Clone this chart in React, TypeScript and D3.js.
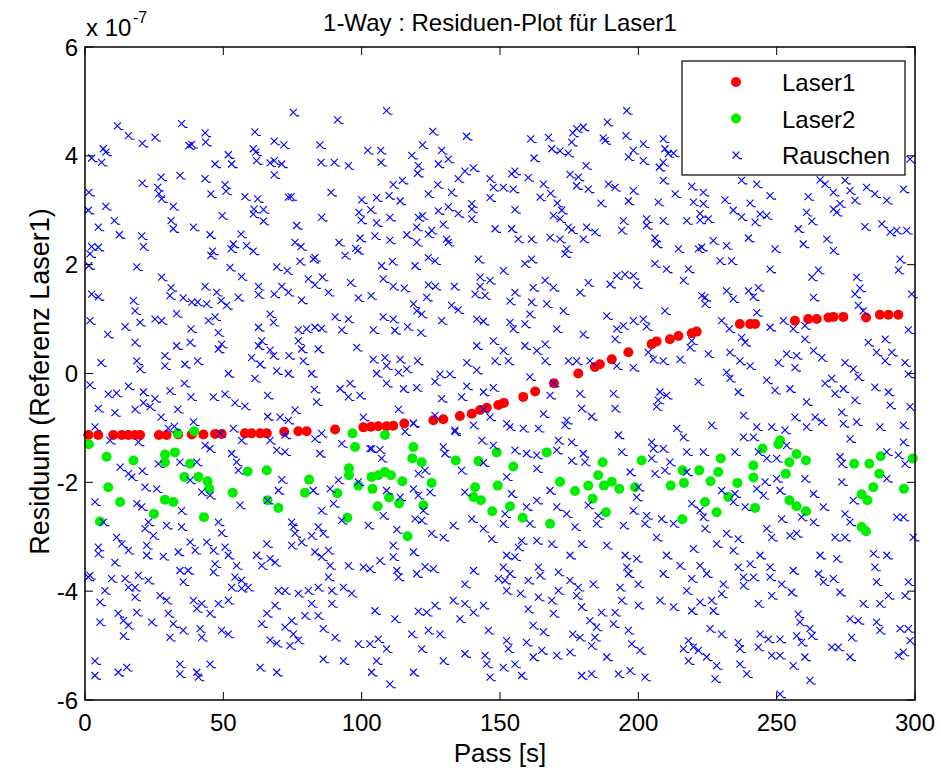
import React from 'react'
import * as d3 from 'd3'

// Werte in Einheiten von 1e-7
const laser1: [number, number][] = [
  [1.2,-1.13],[4.8,-1.13],[10.2,-1.13],[13.3,-1.13],[15.7,-1.13],[18.1,-1.13],[19.9,-1.13],[26.7,-1.13],[29.5,-1.13],
  [33.7,-1.12],[38.6,-1.12],[42.8,-1.12],[47.0,-1.11],[49.4,-1.11],[57.8,-1.10],[60.2,-1.10],[63.3,-1.10],[65.7,-1.10],
  [72.0,-1.07],[77.1,-1.06],[80.1,-1.06],[90.4,-1.03],[100.6,-0.99],[103.4,-0.98],[106.0,-0.97],[109.0,-0.97],[111.4,-0.96],
  [115.4,-0.92],[125.9,-0.86],[129.5,-0.84],[135.5,-0.78],[139.8,-0.74],[142.8,-0.67],[145.2,-0.63],[149.4,-0.58],[151.4,-0.54],
  [158.4,-0.43],[162.7,-0.33],[169.5,-0.18],[178.3,0.0],[184.3,0.12],[186.1,0.17],[190.4,0.26],[196.4,0.39],[204.8,0.54],
  [206.6,0.59],[211.4,0.63],[214.5,0.69],[219.3,0.74],[221.1,0.77],[236.7,0.91],[240.4,0.91],[242.2,0.91],[256.6,0.97],
  [261.4,1.0],[264.5,1.0],[268.7,1.03],[270.5,1.04],[274.1,1.04],[282.3,1.03],[287.3,1.08],[290.4,1.08],[294.0,1.08],
]

const laser2: [number, number][] = [
  [1.4,-1.30],[7.8,-1.53],[17.5,-1.60],[28.9,-1.49],[32.5,-1.45],[28.9,-1.63],[33.5,-1.10],[39.5,-1.06],[38.0,-1.66],
  [8.4,-2.09],[12.7,-2.36],[35.9,-1.90],[41.0,-1.90],[44.3,-1.98],[44.9,-2.12],[53.4,-2.19],[58.8,-1.80],[65.7,-1.78],
  [28.9,-2.32],[31.9,-2.36],[24.9,-2.58],[5.4,-2.72],[43.0,-2.64],[66.0,-2.33],[69.9,-2.47],[81.0,-1.95],[79.5,-2.19],
  [91.2,-2.20],[94.8,-2.65],[96.7,-1.10],[97.6,-1.35],[95.4,-1.74],[95.4,-1.87],[98.8,-2.06],[103.9,-2.12],[103.6,-1.90],
  [106.0,-1.87],[108.4,-1.13],[108.4,-1.81],[110.6,-1.87],[105.8,-2.44],[109.9,-2.28],[113.5,-2.39],[114.7,-1.98],[116.6,-2.99],
  [118.7,-1.35],[118.3,-1.56],[121.7,-1.63],[125.3,-2.01],[122.3,-2.42],[134.0,-1.60],[142.2,-1.61],[141.0,-2.09],[140.4,-2.27],
  [143.1,-2.33],[147.2,-2.53],[148.8,-1.45],[149.2,-2.06],
  [154.8,-1.71],[153.6,-2.44],[158.2,-2.65],[168.1,-2.76],[166.9,-1.45],[171.7,-1.99],[177.1,-2.16],[181.9,-2.06],[183.5,-2.30],
  [187.1,-1.63],[185.5,-1.87],[187.6,-2.06],[190.4,-1.99],[193.1,-2.12],[188.3,-2.55],[198.8,-2.09],[201.2,-1.60],[211.7,-2.06],
  [216.0,-1.78],[216.5,-2.01],[215.9,-2.68],[222.0,-1.78],[224.1,-2.36],[226.1,-1.98],[228.3,-2.55],[228.9,-1.81],[229.8,-1.56],
  [232.5,-2.27],[235.8,-2.01],[241.6,-1.69],[241.6,-1.91],[242.2,-2.47],[244.9,-1.38],[250.6,-1.30],[251.2,-1.23],[253.3,-1.84],
  [254.6,-1.63],[257.2,-1.48],[260.6,-1.60],[254.6,-2.33],[257.2,-2.44],[260.6,-2.53],[278.0,-1.66],[283.5,-1.66],[287.6,-1.52],
  [287.1,-1.84],[284.9,-2.09],[280.7,-2.22],[282.8,-2.33],[280.7,-2.82],[282.3,-2.90],[296.0,-2.12],[299.2,-1.56],
]

const rauschen: [number, number][] = [
  // 0..150, oben
  [75.3,4.80],[91.3,4.66],[109.0,4.83],[11.7,4.55],[15.7,4.37],[20.7,4.23],[25.3,4.34],[34.9,4.59],[43.4,4.42],[43.6,4.25],
  [37.6,4.19],[38.6,4.21],[61.4,4.44],[68.4,4.27],[71.9,4.20],[60.8,4.13],[61.7,4.07],[62.0,3.91],[84.9,4.20],[125.7,4.45],
  [137.9,4.36],[122.0,4.20],[102.2,4.10],[106.9,4.10],[107.0,3.88],[6.6,4.13],[7.5,4.07],[2.4,3.96],[6.0,3.88],[51.8,4.02],
  [47.0,3.85],[53.0,3.85],[66.9,3.87],[68.4,3.91],[71.1,3.85],[85.3,3.88],[90.1,3.88],[95.2,3.82],[68.4,3.65],[118.1,4.01],
  [120.5,3.82],[120.2,3.68],[128.9,4.10],[131.3,3.94],[127.7,3.85],[140.4,3.78],[137.3,3.72],[134.9,3.58],[146.4,3.58],[147.6,3.42],
  [146.4,3.23],[148.2,2.66],[34.3,3.64],[27.5,3.61],[20.7,3.50],[26.3,3.42],[26.7,3.30],[27.7,3.21],[31.9,3.07],[43.4,3.58],
  [45.5,3.30],[50.6,3.47],[51.0,3.35],[57.8,3.25],[62.4,3.21],[61.1,3.02],[64.5,3.01],[60.8,2.93],[64.5,2.80],[73.5,3.24],
  [74.5,3.25],[88.9,3.33],[114.7,3.55],[111.4,3.47],[109.9,3.27],[113.9,3.17],[105.4,3.23],[100.0,3.19],[103.3,3.01],[99.0,2.96],
  [99.8,2.82],[105.4,2.77],[110.2,2.87],[124.1,3.30],[127.5,3.47],[132.5,3.33],[127.7,2.99],[131.3,3.06],[134.9,2.94],[139.8,3.12],
  [139.8,3.02],[139.8,2.84],[120.5,2.87],[122.0,2.90],[119.9,2.69],[125.3,2.63],[124.1,2.56],[129.5,2.74],[130.7,2.47],[131.3,2.41],
  [116.3,2.55],[119.9,2.41],[110.2,2.45],[104.8,2.53],[99.4,2.49],[97.8,2.30],[98.6,2.26],[94.0,2.17],[91.8,2.41],[85.5,2.87],
  [76.5,2.72],[75.9,2.41],[78.1,2.33],[83.1,2.13],[82.5,2.10],[77.7,2.06],[69.3,1.96],[73.1,1.89],[1.4,3.33],[1.2,3.00],
  [7.5,3.07],[10.6,2.81],[4.8,2.69],[12.4,2.55],[20.5,2.53],[21.1,2.33],[31.1,2.81],[31.9,2.66],[39.2,2.69],[45.2,2.55],
  [49.6,2.90],[56.4,2.56],[53.6,2.38],[52.8,2.29],[58.4,2.35],[60.8,2.25],[46.1,2.25],[45.5,2.17],[2.4,2.33],[4.8,2.32],
  [1.8,2.20],[1.4,1.98],[18.7,1.96],[27.7,1.77],[52.4,1.95],[56.6,1.78],[2.4,1.46],[4.8,1.41],[17.5,1.34],[18.1,1.15],
  [31.1,1.58],[30.7,1.43],[35.5,1.39],[38.6,1.31],[40.7,1.31],[43.4,1.60],[44.0,1.28],[47.6,1.49],[49.2,1.34],[51.2,1.25],
  [55.4,1.40],[62.7,1.60],[62.7,1.45],[68.4,1.46],[71.1,1.60],[73.5,1.49],[78.3,1.35],[80.7,1.74],[83.1,1.63],[85.8,1.77],
  [88.0,1.49],[96.0,1.67],[98.8,1.39],[103.4,1.43],[107.8,1.74],[111.4,1.60],[115.4,1.57],[107.2,1.98],[111.1,2.06],[119.3,1.98],
  [124.1,2.13],[126.5,2.07],[142.2,2.10],[124.1,1.63],[126.7,1.60],[133.5,1.60],[123.5,1.40],[118.7,1.28],[119.9,1.15],[121.7,1.09],
  [132.5,1.25],[134.9,1.17],[142.8,1.77],[146.4,1.71],[142.8,1.60],[141.0,1.46],[144.6,1.43],[1.8,0.97],[8.2,0.72],[14.5,0.86],
  [19.9,0.94],[25.3,1.00],[27.7,0.97],[18.1,0.57],[33.1,1.10],[38.3,0.82],[38.0,0.57],[33.1,0.51],[44.6,0.97],[47.0,1.04],
  [48.2,0.75],[49.4,0.54],[48.2,0.45],[62.7,0.85],[66.9,1.09],[68.1,0.94],[63.9,0.60],[62.7,0.51],[66.9,0.43],[77.1,0.80],
  [80.1,0.82],[83.1,0.85],[85.5,0.83],[77.1,0.60],[78.3,0.45],[84.3,0.45],[90.4,1.04],[95.2,1.00],[92.8,0.80],[98.2,0.48],
  [104.2,0.80],[107.8,1.04],[111.4,1.00],[112.0,0.79],[116.6,0.86],[121.4,0.75],[128.9,0.97],[141.6,1.00],[144.0,0.96],[141.6,0.51],
  [147.6,0.60],[148.2,0.23],[5.8,0.20],[18.7,0.23],[19.9,0.08],[28.9,0.33],[28.9,0.14],[36.1,0.17],[40.7,0.23],[60.2,0.29],
  [63.3,0.17],[68.1,0.33],[73.7,0.33],[78.9,0.23],[104.2,0.26],[108.4,0.29],[109.0,0.14],[113.9,0.26],[120.2,0.23],[138.0,0.20],
  [141.6,0.06],[51.8,0.0],[69.3,0.05],[73.5,0.0],[81.9,0.0],[105.4,0.0],[113.3,0.02],[116.3,0.08],[128.3,-0.01],[131.9,-0.01],
  // 150..300, oben
  [195.8,4.83],[188.8,4.62],[177.7,4.50],[180.1,4.53],[176.3,4.42],[161.1,4.31],[167.5,4.34],[168.7,4.13],[171.7,4.09],[174.7,4.05],
  [175.9,4.25],[187.3,4.33],[188.0,4.28],[195.5,4.37],[198.2,4.10],[196.4,3.98],[201.8,4.22],[201.8,3.91],[209.0,4.31],[209.6,4.13],
  [210.8,4.04],[209.0,3.88],[207.6,3.79],[212.7,4.05],[162.3,3.96],[181.1,3.82],[155.4,3.72],[154.2,3.67],[160.2,3.60],[151.2,3.42],
  [154.8,3.39],[165.7,3.48],[168.3,3.31],[164.5,3.24],[175.3,3.66],[178.3,3.61],[177.7,3.45],[181.9,3.39],[189.2,3.48],[191.6,3.42],
  [198.2,3.36],[209.0,3.55],[213.3,3.30],[219.3,3.44],[223.5,3.33],[219.9,3.15],[223.5,3.12],[186.5,3.13],[196.4,3.17],[207.2,3.15],
  [155.4,3.01],[170.7,3.13],[172.3,3.00],[169.3,2.90],[171.7,2.84],[174.7,2.69],[175.9,2.64],[181.3,2.69],[184.3,2.60],[180.1,2.47],
  [171.7,2.47],[168.1,2.50],[156.6,2.47],[161.4,2.47],[154.2,2.66],[194.6,2.81],[194.0,2.63],[203.0,2.84],[203.0,2.72],[209.0,2.81],
  [217.5,2.81],[222.3,2.94],[222.3,2.82],[225.3,2.84],[231.3,3.19],[234.3,3.00],[237.3,2.88],[240.4,3.13],[242.2,2.78],[244.0,2.93],
  [246.4,2.90],[247.6,3.27],[237.3,3.55],[242.8,3.48],[261.4,3.25],[267.5,3.48],[270.5,3.33],[270.5,3.02],[271.7,2.96],[272.9,3.12],
  [276.5,3.36],[278.3,3.18],[282.5,3.42],[285.5,3.30],[289.8,3.18],[295.8,3.39],[298.2,3.94],[274.7,3.55],[265.7,3.56],[260.8,2.96],
  [262.7,2.80],[257.8,2.66],[259.6,2.38],[268.1,2.47],[270.5,2.26],[281.9,2.70],[288.0,2.75],[291.0,2.60],[293.4,2.63],[297.0,2.63],
  [294.6,2.10],[294.0,1.90],[206.0,2.49],[206.6,2.38],[214.5,2.29],[221.7,2.29],[222.9,2.32],[227.1,2.44],[231.9,2.35],[239.8,2.49],
  [249.4,2.29],[229.5,2.07],[233.7,2.07],[206.0,2.02],[210.2,1.92],[218.1,1.92],[216.3,1.71],[247.6,1.92],[159.0,2.02],[161.4,2.10],
  [151.2,1.89],[174.1,2.29],[173.5,2.20],[192.2,1.80],[195.2,1.82],[198.2,1.80],[199.4,1.63],[189.8,1.64],[181.9,1.67],[178.9,1.49],
  [166.3,1.71],[169.3,1.58],[162.0,1.58],[155.4,1.49],[153.6,1.33],[161.4,1.31],[166.9,1.28],[172.9,1.15],[160.8,1.09],[159.0,0.91],
  [153.6,0.94],[154.8,0.82],[151.2,0.42],[153.0,0.23],[159.0,0.51],[163.3,0.42],[166.3,0.54],[166.3,0.23],[174.7,0.23],[177.7,0.23],
  [170.5,0.82],[180.1,0.72],[182.5,0.23],[188.6,1.06],[192.2,0.82],[194.6,0.88],[191.6,0.63],[198.2,0.97],[201.8,1.00],[203.0,0.86],
  [203.6,0.39],[205.4,0.26],[209.0,0.23],[198.2,0.11],[192.2,0.14],[209.6,1.15],[215.1,0.26],[218.7,0.48],[219.3,0.60],[225.3,0.36],
  [224.1,1.40],[224.1,1.28],[222.9,1.43],[230.1,0.97],[231.9,1.52],[234.3,1.37],[239.8,1.52],[241.6,1.41],[243.4,1.58],[242.8,1.12],
  [232.9,0.82],[237.3,0.66],[238.6,0.57],[233.1,0.39],[236.7,0.23],[240.4,0.14],[231.9,0.02],[247.6,0.85],[252.4,0.97],[256.0,0.82],
  [260.2,0.88],[260.2,0.63],[257.2,0.33],[253.6,0.36],[250.6,0.20],[256.6,0.11],[263.3,0.42],[266.3,0.29],[262.7,1.77],[265.1,1.90],
  [263.3,1.40],[278.9,1.77],[280.1,1.57],[278.3,1.46],[279.5,1.25],[281.3,1.15],[298.8,1.46],[297.6,0.80],[283.1,0.57],[286.1,0.39],
  [289.2,0.63],[291.6,0.39],[289.2,0.23],[296.4,0.20],[274.7,0.20],[277.7,0.08],[297.6,-0.01],
  // 0..150, unten
  [1.8,-0.21],[8.4,-0.38],[11.4,-0.36],[15.7,-0.23],[21.1,-0.34],[25.3,-0.46],[30.7,-0.32],[35.9,-0.18],[38.3,-0.43],[46.4,-0.43],
  [50.6,-0.38],[54.2,-0.54],[61.4,-0.09],[66.0,-0.40],[82.9,-0.29],[83.7,-0.52],[92.2,-0.28],[95.8,-0.18],[95.2,-0.43],[99.4,-0.40],
  [109.0,-0.18],[115.1,-0.28],[119.9,-0.26],[126.5,-0.15],[128.9,-0.46],[136.1,-0.43],[138.0,-0.23],[144.0,-0.34],[147.6,-0.26],[4.8,-0.64],
  [10.8,-0.72],[18.1,-0.66],[21.1,-0.54],[23.5,-0.61],[27.5,-0.80],[33.5,-0.66],[39.2,-0.89],[57.8,-0.60],[66.0,-0.79],[70.5,-0.80],
  [73.5,-0.86],[75.9,-0.67],[100.6,-0.80],[113.3,-0.66],[118.7,-0.91],[126.5,-0.77],[133.7,-1.04],[140.4,-0.95],[144.0,-0.66],[146.4,-0.80],
  [3.6,-0.98],[9.0,-1.23],[19.3,-1.26],[30.1,-1.01],[32.3,-0.97],[43.4,-1.32],[45.2,-1.38],[48.8,-1.10],[53.6,-1.01],[56.6,-1.23],
  [66.9,-1.23],[69.3,-1.41],[72.3,-1.44],[72.3,-1.13],[83.1,-1.20],[85.5,-1.10],[92.8,-1.29],[115.7,-1.07],[118.7,-0.92],[133.7,-1.07],
  [143.4,-1.23],[147.6,-1.32],[129.5,-1.35],[130.1,-1.47],[103.6,-1.38],[106.6,-1.40],[107.2,-1.56],[84.9,-1.47],[53.0,-1.47],[54.8,-1.63],
  [55.4,-1.78],[26.5,-1.66],[34.3,-1.63],[40.4,-1.63],[12.7,-1.72],[15.7,-1.84],[16.9,-1.90],[20.7,-1.79],[21.7,-2.09],[25.9,-2.12],
  [42.2,-2.18],[45.2,-2.24],[38.0,-1.96],[3.6,-2.36],[18.7,-2.39],[20.5,-2.45],[34.9,-2.52],[56.0,-2.42],[66.0,-2.33],[69.9,-2.15],
  [71.1,-1.95],[82.5,-2.15],[88.6,-2.12],[91.6,-1.96],[89.8,-2.39],[85.5,-2.52],[98.8,-1.99],[103.0,-1.38],[109.0,-2.15],[113.9,-2.27],
  [118.7,-2.12],[120.5,-1.84],[122.9,-1.78],[124.7,-2.18],[120.5,-2.24],[136.1,-1.78],[137.3,-2.18],[144.0,-1.64],[122.3,-2.52],[119.3,-2.67],
  [121.7,-2.70],[107.8,-2.61],[102.4,-2.79],[112.7,-2.87],[125.3,-2.94],[129.5,-3.01],[133.1,-2.79],[139.8,-2.67],[144.0,-2.85],[147.0,-3.04],
  [92.8,-2.70],[84.3,-2.82],[81.9,-2.98],[86.1,-2.94],[74.7,-2.73],[75.3,-2.82],[75.9,-2.94],[78.3,-3.10],[74.7,-3.16],[65.7,-3.13],
  [22.9,-2.73],[21.7,-2.85],[24.7,-2.98],[29.5,-2.79],[34.9,-2.82],[48.2,-2.73],[49.4,-2.93],[6.6,-2.73],[11.4,-3.01],[13.3,-3.13],
  [15.7,-3.25],[4.8,-3.19],[4.8,-3.31],[10.8,-3.47],[22.3,-3.16],[22.3,-3.34],[28.3,-3.36],[33.7,-3.28],[38.0,-3.10],[39.8,-3.25],
  [44.0,-3.10],[46.4,-3.25],[50.6,-3.19],[51.8,-3.34],[62.0,-3.34],[63.9,-3.53],[66.9,-3.40],[68.7,-3.47],[54.8,-3.53],[47.0,-3.50],
  [46.4,-3.65],[83.1,-3.28],[88.0,-3.25],[85.5,-3.37],[88.6,-3.53],[95.2,-3.53],[100.6,-3.56],[103.0,-3.59],[106.6,-3.44],[111.4,-3.16],
  [111.4,-3.37],[112.7,-3.62],[113.3,-3.74],[118.7,-3.28],[119.9,-3.68],[122.9,-3.55],[125.9,-3.59],[140.4,-3.62],[137.3,-3.87],[149.4,-3.77],
  [1.8,-3.71],[9.6,-3.77],[14.5,-3.77],[19.3,-3.71],[18.1,-3.93],[15.7,-3.93],[7.2,-3.99],[5.4,-4.20],[18.1,-4.11],[22.9,-3.80],
  [27.1,-4.08],[29.5,-4.17],[34.3,-3.62],[37.3,-3.62],[35.5,-3.83],[39.2,-4.17],[42.2,-4.23],[48.2,-4.23],[51.8,-4.17],[53.0,-3.93],
  [54.2,-3.74],[56.6,-3.80],[59.0,-3.93],[56.6,-3.95],[69.9,-3.99],[72.3,-3.99],[77.1,-4.04],[80.7,-3.99],[84.3,-3.93],[88.0,-3.74],
  [89.2,-3.99],[93.4,-3.93],[96.4,-4.04],[68.7,-4.26],[65.7,-4.41],[63.9,-4.60],[66.9,-4.90],[69.3,-4.96],[72.3,-4.66],[74.7,-4.54],
  [75.3,-4.79],[77.1,-4.90],[74.1,-5.00],[79.5,-4.45],[81.9,-4.23],[84.3,-4.45],[89.2,-4.23],[86.1,-4.69],[90.4,-4.85],[98.8,-4.97],
  [103.0,-4.97],[106.0,-4.88],[109.0,-5.06],[104.8,-4.36],[112.0,-4.51],[120.5,-4.37],[123.5,-4.39],[126.5,-4.26],[124.1,-4.72],[118.1,-4.79],
  [128.3,-4.79],[133.1,-4.17],[135.5,-4.51],[137.3,-4.23],[140.4,-4.39],[144.0,-4.26],[145.8,-4.72],[137.3,-5.15],[144.6,-5.18],[145.2,-5.34],
  [146.4,-5.58],[121.7,-5.06],[129.5,-5.28],[118.7,-5.49],[110.2,-5.71],[103.6,-5.49],[105.4,-5.28],[93.4,-5.28],[86.1,-5.25],[69.3,-5.49],
  [63.3,-5.40],[45.2,-5.34],[40.4,-5.49],[41.0,-5.58],[34.3,-5.34],[34.3,-5.52],[15.1,-5.40],[12.0,-5.49],[3.6,-5.28],[3.6,-5.55],
  [1.2,-3.74],[12.0,-4.41],[13.9,-4.54],[18.7,-4.39],[15.7,-4.63],[13.9,-4.82],[5.4,-4.57],[24.1,-4.57],[30.1,-4.41],[31.9,-4.60],
  [30.7,-4.85],[35.5,-4.72],[41.6,-4.69],[42.2,-4.85],[49.4,-4.72],[51.8,-4.79],[40.4,-4.32],[45.2,-4.41],
  // 150..300, unten
  [160.8,-0.06],[169.3,-0.18],[221.7,-0.15],[233.1,-0.09],[236.1,-0.34],[246.4,-0.12],[249.4,-0.31],[254.8,-0.28],[269.9,-0.09],[267.5,-0.18],
  [271.1,-0.37],[274.1,-0.28],[279.5,-0.06],[285.5,-0.25],[290.4,-0.34],[278.3,-0.49],[291.0,-0.58],[298.2,-0.61],[260.8,-0.52],[273.5,-0.71],
  [274.1,-0.92],[278.9,-0.89],[287.3,-0.98],[295.8,-0.95],[276.5,-1.20],[295.8,-1.26],[296.4,-1.66],[289.8,-1.44],[294.0,-1.50],[272.9,-1.53],
  [273.5,-1.66],[289.8,-1.93],[273.5,-1.99],[277.7,-2.33],[274.7,-2.58],[276.5,-2.73],[293.4,-2.64],[295.8,-2.64],[299.4,-3.01],[178.9,-0.37],
  [191.0,-0.37],[191.6,-0.64],[179.5,-0.64],[183.1,-0.79],[165.7,-0.74],[168.1,-0.40],[207.8,-0.34],[210.2,-0.40],[207.2,-0.49],[206.6,-0.61],
  [152.4,-0.92],[153.6,-0.98],[158.4,-1.01],[163.9,-1.01],[174.1,-0.86],[173.5,-0.95],[192.8,-1.13],[213.9,-1.01],[216.3,-1.17],[226.5,-0.95],
  [238.0,-0.77],[238.0,-1.17],[241.6,-1.17],[242.8,-0.98],[248.2,-0.98],[253.0,-1.04],[256.6,-0.80],[260.8,-0.98],[263.9,-0.80],[266.3,-0.89],
  [253.6,-1.32],[250.0,-1.56],[246.4,-1.56],[243.4,-1.44],[234.9,-1.44],[223.5,-1.44],[217.5,-1.44],[209.0,-1.38],[204.8,-1.26],[205.4,-1.38],
  [204.8,-1.56],[211.4,-1.63],[209.6,-1.78],[206.0,-1.84],[217.5,-1.81],[197.0,-1.81],[194.0,-1.44],[180.1,-1.47],[180.7,-1.63],[175.9,-1.60],
  [171.1,-1.23],[170.5,-1.41],[175.9,-1.26],[163.3,-1.50],[163.3,-1.75],[159.6,-1.47],[155.4,-1.41],[152.4,-1.90],[154.2,-2.21],[151.8,-2.58],
  [151.2,-2.76],[159.6,-2.45],[163.3,-2.33],[168.1,-2.15],[170.5,-2.45],[174.1,-2.58],[160.8,-2.76],[177.1,-2.82],[181.9,-2.42],[185.5,-2.61],
  [184.9,-2.76],[194.6,-2.79],[198.2,-2.52],[199.4,-2.27],[200.0,-2.09],[203.0,-2.61],[202.4,-2.76],[208.4,-2.67],[212.7,-2.76],[219.3,-2.39],
  [222.3,-2.52],[223.5,-2.64],[224.1,-2.85],[230.1,-2.15],[234.9,-2.21],[234.3,-2.36],[238.6,-2.45],[242.8,-2.12],[245.2,-2.24],[245.8,-1.99],
  [251.2,-2.15],[250.0,-1.93],[251.8,-2.67],[259.0,-2.64],[263.3,-2.73],[263.3,-2.21],[266.9,-2.45],[260.2,-1.93],[231.9,-2.94],[236.1,-3.04],
  [228.3,-3.13],[246.4,-2.85],[248.2,-3.01],[254.8,-2.98],[257.2,-2.94],[271.1,-3.01],[274.7,-3.01],[206.6,-3.01],[188.6,-3.16],[179.5,-3.13],
  [168.7,-3.13],[163.3,-3.07],[157.8,-3.07],[156.6,-3.19],[152.4,-3.34],[155.4,-3.37],[151.2,-3.56],[153.6,-3.68],[151.8,-3.80],[152.4,-3.99],
  [157.4,-4.04],[160.2,-3.80],[163.9,-3.56],[164.5,-3.71],[163.9,-4.11],[171.1,-3.65],[171.1,-3.99],[168.7,-4.17],[175.3,-3.34],[175.3,-3.80],
  [178.3,-3.93],[177.7,-4.08],[183.7,-3.87],[160.2,-4.33],[169.3,-4.41],[179.5,-4.29],[186.7,-4.39],[191.6,-4.39],[182.5,-4.54],[184.9,-4.66],
  [191.0,-4.60],[196.4,-4.72],[195.2,-3.34],[195.8,-3.56],[196.4,-3.68],[199.4,-3.40],[193.4,-3.93],[194.0,-4.17],[200.0,-3.87],[200.0,-4.26],
  [207.8,-4.17],[212.7,-4.29],[209.0,-3.68],[210.2,-3.34],[215.1,-3.53],[219.9,-3.22],[222.3,-3.53],[224.7,-3.68],[219.3,-3.77],[217.5,-3.99],
  [222.3,-4.20],[226.5,-4.17],[230.1,-4.05],[230.7,-3.87],[219.3,-4.36],[227.1,-4.36],[234.3,-3.25],[236.1,-3.56],[240.4,-3.50],[244.0,-3.34],
  [247.6,-3.56],[247.6,-3.74],[241.6,-3.74],[238.0,-3.74],[238.0,-3.90],[251.8,-3.87],[255.4,-4.02],[248.2,-4.08],[256.0,-3.62],[243.4,-4.23],
  [265.7,-3.34],[271.7,-3.40],[265.1,-3.68],[266.9,-3.83],[270.5,-3.77],[272.9,-4.02],[285.0,-3.31],[289.8,-3.34],[285.5,-3.56],[286.1,-3.83],
  [290.4,-4.08],[287.3,-4.23],[281.3,-4.23],[297.6,-3.83],[296.4,-4.08],[276.5,-4.51],[279.5,-4.54],[286.1,-4.57],[287.3,-4.72],[294.6,-4.69],
  [297.6,-4.69],[298.2,-4.91],[277.1,-4.85],[269.9,-5.03],[272.3,-5.03],[276.5,-5.21],[294.0,-5.18],[295.8,-5.12],[257.8,-4.42],[258.4,-4.57],
  [262.0,-4.69],[262.7,-4.82],[257.2,-4.82],[259.0,-4.94],[251.2,-4.88],[247.0,-4.88],[244.0,-4.79],[243.4,-5.03],[248.2,-5.18],[251.2,-5.18],
  [260.2,-5.21],[256.0,-5.37],[262.0,-5.64],[251.2,-5.89],[236.1,-4.94],[236.7,-5.06],[236.7,-5.34],[239.2,-5.52],[228.3,-5.37],[227.7,-5.61],
  [225.9,-4.69],[230.1,-4.79],[224.7,-5.21],[218.1,-4.91],[219.9,-5.03],[216.3,-5.06],[218.1,-5.28],[221.7,-5.09],[200.6,-5.09],[197.6,-4.97],
  [188.6,-5.21],[197.0,-5.46],[192.8,-5.52],[202.4,-5.58],[179.5,-5.55],[183.1,-5.52],[175.3,-5.12],[170.5,-5.18],[165.1,-5.09],[162.0,-5.21],
  [159.6,-4.94],[162.0,-4.63],[165.7,-4.75],[176.3,-4.79],[178.9,-4.85],[184.3,-4.85],[183.1,-5.00],[152.4,-4.91],[153.0,-5.06],[151.2,-5.40],
  [155.4,-5.34],[157.8,-5.55],
]

const xTicks = [0, 50, 100, 150, 200, 250, 300]
const yTicks = [-6, -4, -2, 0, 2, 4, 6]
const legendNames = ['Laser1', 'Laser2', 'Rauschen']

const W = 941, H = 768
const M = { left: 85, right: 915, top: 47, bottom: 700 }
const FONT = '"Liberation Sans", Arial, sans-serif'
const xMark = 'M-3.5,-3.5L3.5,3.5M-3.5,3.5L3.5,-3.5M3,3.6L6,3.6'

export default function App() {
  const x = d3.scaleLinear().domain([0, 300]).range([M.left, M.right])
  const y = d3.scaleLinear().domain([-6, 6]).range([M.bottom, M.top])
  const tl = 8

  return (
    <svg width={W} height={H} style={{ position: 'absolute', left: 0, top: 0, background: '#fff' }}
      fontFamily={FONT}>
      <rect width={W} height={H} fill="#fff" />
      <g>
        {laser1.map((d, i) => (
          <circle key={'r' + i} cx={x(d[0])} cy={y(d[1])} r={5} fill="#ff0000" />
        ))}
        {laser2.map((d, i) => (
          <circle key={'g' + i} cx={x(d[0])} cy={y(d[1])} r={5} fill="#00ee00" />
        ))}
        {rauschen.map((d, i) => (
          <path key={'b' + i} d={xMark} transform={`translate(${x(d[0])},${y(d[1])})`}
            stroke="#0000ff" strokeWidth={1.1} fill="none" />
        ))}
      </g>
      {/* Achsen */}
      <rect x={M.left} y={M.top} width={M.right - M.left} height={M.bottom - M.top}
        fill="none" stroke="#000" strokeWidth={1.5} />
      {xTicks.map(t => (
        <g key={'xt' + t}>
          <line x1={x(t)} x2={x(t)} y1={M.bottom} y2={M.bottom - tl} stroke="#000" />
          <line x1={x(t)} x2={x(t)} y1={M.top} y2={M.top + tl} stroke="#000" />
          <text x={x(t)} y={731} fontSize={24} textAnchor="middle">{t}</text>
        </g>
      ))}
      {yTicks.map(t => (
        <g key={'yt' + t}>
          <line x1={M.left} x2={M.left + tl} y1={y(t)} y2={y(t)} stroke="#000" />
          <line x1={M.right} x2={M.right - tl} y1={y(t)} y2={y(t)} stroke="#000" />
          <text x={78} y={y(t) + 8.5} fontSize={24} textAnchor="end">{t}</text>
        </g>
      ))}
      <text x={86} y={36} fontSize={24}>x 10</text>
      <text x={133} y={23} fontSize={16}>-7</text>
      <text x={(M.left + M.right) / 2} y={31} fontSize={24} textAnchor="middle">1-Way : Residuen-Plot für Laser1</text>
      <text x={(M.left + M.right) / 2} y={762} fontSize={26} textAnchor="middle">Pass [s]</text>
      <text transform={`translate(49,${(M.top + M.bottom) / 2 + 8}) rotate(-90)`} fontSize={27}
        textAnchor="middle">Residuum (Referenz Laser1)</text>
      {/* Legende */}
      <g>
        <rect x={682} y={61} width={223} height={114} fill="#fff" stroke="#000" strokeWidth={1.2} />
        {legendNames.map((n, i) => {
          const cy = 82 + i * 36.5
          return (
            <g key={n}>
              {i === 0 && <circle cx={736} cy={cy} r={5} fill="#ff0000" />}
              {i === 1 && <circle cx={736} cy={cy} r={5} fill="#00ee00" />}
              {i === 2 && <path d={xMark} transform={`translate(736,${cy})`} stroke="#0000ff" strokeWidth={1.1} fill="none" />}
              <text x={782} y={cy + 9} fontSize={24}>{n}</text>
            </g>
          )
        })}
      </g>
    </svg>
  )
}
